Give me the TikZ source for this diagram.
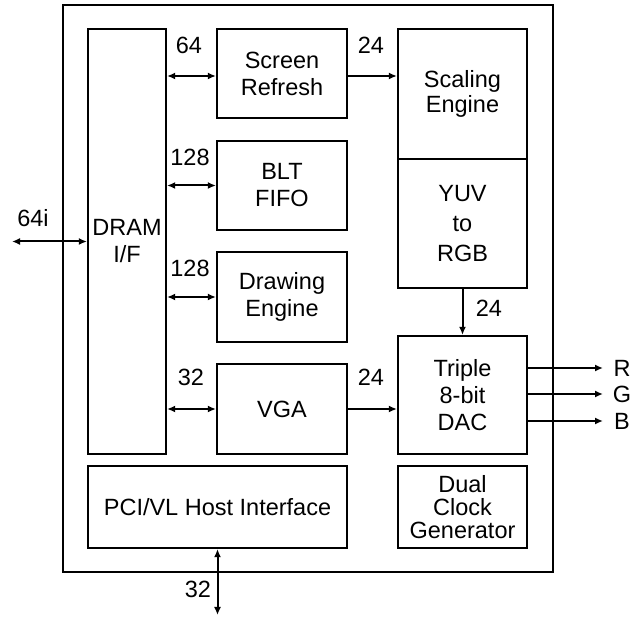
\documentclass[tikz,border=0pt]{standalone}
\usepackage{fontspec}
\setmainfont{Liberation Sans}
\usetikzlibrary{arrows.meta}
\begin{document}
\begin{tikzpicture}[x=1pt,y=-1pt,
  every node/.style={font=\fontsize{23.5}{27}\selectfont},
  blk/.style={draw,line width=2.2pt,inner sep=0pt,align=center},
  lbl/.style={inner sep=0pt},
  conn/.style={line width=2pt},
  tip/.style={-{Latex[length=8pt,width=7pt]}},
  both/.style={{Latex[length=8pt,width=7pt]}-{Latex[length=8pt,width=7pt]}}]
\useasboundingbox (0,0) rectangle (638,617);
\node[blk,minimum width=490pt,minimum height=567pt] (outer) at (308,288.5) {};
\node[blk,minimum width=78pt,minimum height=425pt] (dram) at (127,241.5) {DRAM\\I/F};
\node[blk,minimum width=130pt,minimum height=89pt] (sr) at (282,73.5) {Screen\\Refresh};
\node[blk,minimum width=130pt,minimum height=89pt] (blt) at (282,185.5) {BLT\\FIFO};
\node[blk,minimum width=130pt,minimum height=90pt] (de) at (282,297) {Drawing\\Engine};
\node[blk,minimum width=130pt,minimum height=90pt] (vga) at (282,409) {VGA};
\node[blk,minimum width=259pt,minimum height=82pt] (pci) at (217.5,507) {PCI/VL Host Interface};
\node[blk,minimum width=129pt,minimum height=130pt] (scale) at (462.5,94) {Scaling\\[-2pt]Engine};
\node[blk,minimum width=129pt,minimum height=129pt] (yuv) at (462.5,223.5) {YUV\\[3pt]to\\[3pt]RGB};
\node[blk,minimum width=129pt,minimum height=118pt] (dac) at (462.5,395) {Triple\\8-bit\\DAC};
\node[blk,minimum width=129pt,minimum height=82pt] (clk) at (462.5,507) {Dual\\[-4pt]Clock\\[-4pt]Generator};
% external ends
\coordinate (ext) at (12,241.5);
\coordinate (bus) at (217.5,615);
\coordinate (rend) at (603,368);
\coordinate (gend) at (603,394);
\coordinate (bend) at (603,421);
\coordinate (srp) at ([yshift=-2.5pt]sr.west);
\coordinate (sre) at ([yshift=-2.5pt]sr.east);
% connectors
\draw[conn,both] (ext) -- (dram.west);
\draw[conn,both] (dram.east |- srp) -- (srp);
\draw[conn,both] (dram.east |- blt.west) -- (blt.west);
\draw[conn,both] (dram.east |- de.west) -- (de.west);
\draw[conn,both] (dram.east |- vga.west) -- (vga.west);
\draw[conn,tip] (sre) -- (sre -| scale.west);
\draw[conn,tip] (vga.east) -- (vga.east -| dac.west);
\draw[conn,tip] (yuv.south) -- (dac.north);
\draw[conn,tip] (dac.east |- rend) -- (rend);
\draw[conn,tip] (dac.east |- gend) -- (gend);
\draw[conn,tip] (dac.east |- bend) -- (bend);
\draw[conn,both] (pci.south) -- (bus);
% labels
\node[lbl] (l64) at (189,45) {64};
\node[lbl] (l128a) at (190,157) {128};
\node[lbl] (l128b) at (190,268) {128};
\node[lbl] (l32a) at (191,377) {32};
\node[lbl] (l64i) at (33,218) {64i};
\node[lbl] (l24a) at (371,45) {24};
\node[lbl] (l24b) at (371,377) {24};
\node[lbl] (l24c) at (489,308) {24};
\node[lbl] (l32b) at (198,589) {32};
\node[lbl] (lr) at (622,368) {R};
\node[lbl] (lg) at (622,394) {G};
\node[lbl] (lb) at (622,421) {B};
\end{tikzpicture}
\end{document}
